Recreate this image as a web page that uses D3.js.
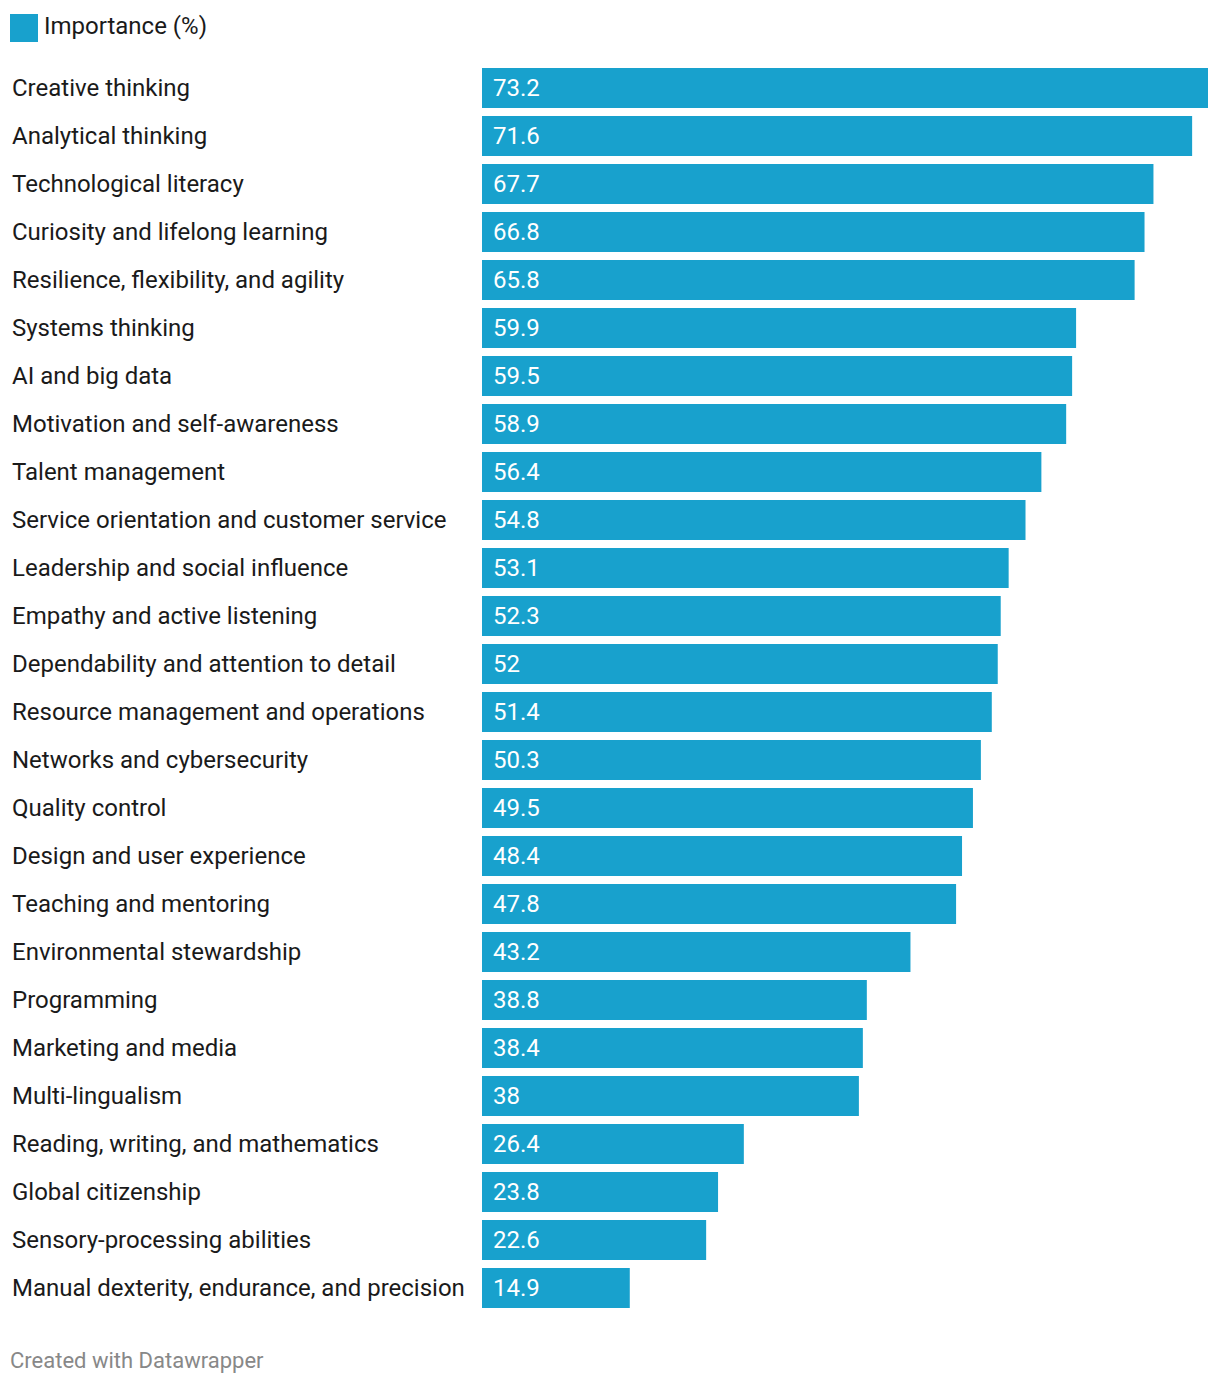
<!DOCTYPE html>
<html><head><meta charset="utf-8">
<script src="https://cdn.jsdelivr.net/npm/d3@7"></script>
<style>body{margin:0;background:#fff;}svg{display:block;}</style>
</head><body><div id="chart"></div>
<script>
const categories = ["Creative thinking","Analytical thinking","Technological literacy","Curiosity and lifelong learning","Resilience, flexibility, and agility","Systems thinking","AI and big data","Motivation and self-awareness","Talent management","Service orientation and customer service","Leadership and social influence","Empathy and active listening","Dependability and attention to detail","Resource management and operations","Networks and cybersecurity","Quality control","Design and user experience","Teaching and mentoring","Environmental stewardship","Programming","Marketing and media","Multi-lingualism","Reading, writing, and mathematics","Global citizenship","Sensory-processing abilities","Manual dexterity, endurance, and precision"];
const values = [73.2,71.6,67.7,66.8,65.8,59.9,59.5,58.9,56.4,54.8,53.1,52.3,52,51.4,50.3,49.5,48.4,47.8,43.2,38.8,38.4,38,26.4,23.8,22.6,14.9];
const seriesName = "Importance (%)";
const footer = "Created with Datawrapper";

const W = 1220, H = 1386;
const color = "#18a1cd";
const font = "Roboto, sans-serif";
const svg = d3.select("#chart").append("svg").attr("width", W).attr("height", H);

// legend
svg.append("rect").attr("x",10).attr("y",14).attr("width",28).attr("height",28).attr("fill",color);
svg.append("text").attr("x",44).attr("y",26).attr("dy","0.35em").attr("font-family",font).attr("font-size",24).attr("fill","#1a1a1a").text(seriesName);

const x = d3.scaleLinear().domain([0, 73.2]).range([482, 1208]);
const y = d3.scaleBand().domain(categories).range([64, 64 + 48*categories.length]).paddingInner(8/48).paddingOuter(4/48);

const g = svg.append("g");
const rows = g.selectAll("g.row").data(categories.map((c,i)=>({c, v: values[i]}))).enter().append("g");
rows.append("rect").attr("x", x(0)).attr("y", d=>y(d.c)).attr("width", d=>x(d.v)-x(0)).attr("height", y.bandwidth()).attr("fill", color);
rows.append("text").attr("x", 12).attr("y", d=>y(d.c)+y.bandwidth()/2).attr("dy","0.35em")
  .attr("font-family",font).attr("font-size",24).attr("fill","#1a1a1a").text(d=>d.c);
rows.append("text").attr("x", x(0)+11).attr("y", d=>y(d.c)+y.bandwidth()/2).attr("dy","0.35em")
  .attr("font-family",font).attr("font-size",24).attr("fill","#fff").text(d=>d3.format("")(d.v));

svg.append("text").attr("x",10).attr("y",1360).attr("dy","0.35em").attr("font-family",font).attr("font-size",22).attr("fill","#888").text(footer);
</script></body></html>
